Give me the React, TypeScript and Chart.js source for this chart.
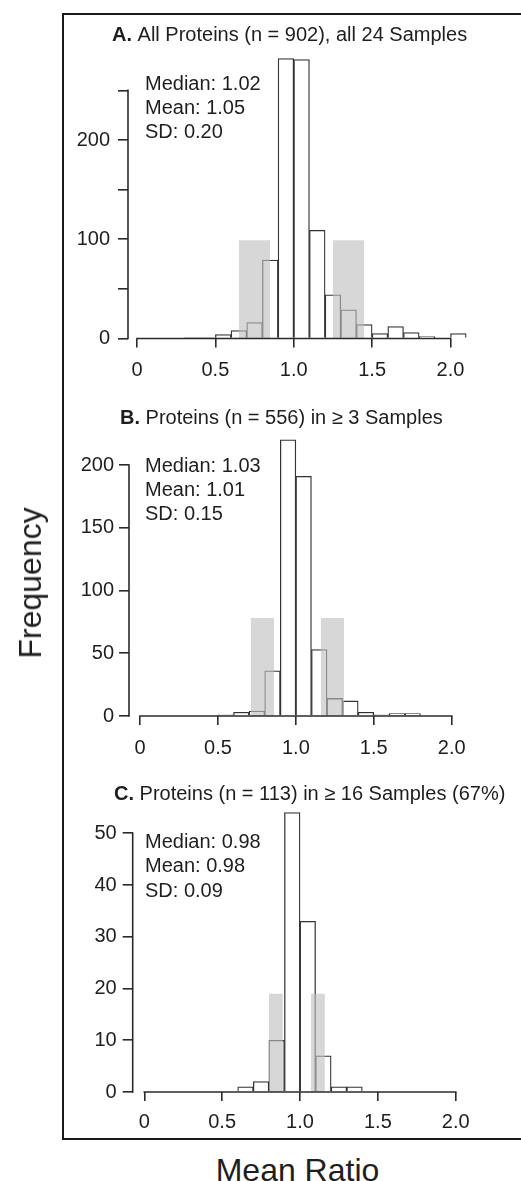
import React, { useEffect, useRef } from 'react';
import { Chart, registerables } from 'chart.js';

Chart.register(...registerables);

const FONT = "'Liberation Sans', Arial, Helvetica, sans-serif";
const TEXT_COLOR = '#1e1e1e';
const AXIS_COLOR = '#2a2a2a';
const BAR_BORDER = '#333333';
const BAND_COLOR = 'rgba(190,190,190,0.62)';

// ---- data ----
const binStarts = [0.3, 0.4, 0.5, 0.6, 0.7, 0.8, 0.9, 1.0, 1.1, 1.2, 1.3, 1.4, 1.5, 1.6, 1.7, 1.8, 1.9, 2.0];
const binWidth = 0.1;

const countsA = [1, 1, 4, 8, 16, 79, 282, 281, 109, 44, 29, 14, 5, 12, 6, 2, 0, 5];
const countsB = [0, 0, 1, 3, 4, 36, 220, 191, 53, 14, 12, 3, 1, 2, 2, 0, 0, 0];
const countsC = [0, 0, 0, 1, 2, 10, 54, 33, 7, 1, 1, 0, 0, 0, 0, 0, 0, 0];

// shaded bands: [mean - 2SD, mean - SD] and [mean + SD, mean + 2SD]
const bandLowA = [0.65, 0.85];
const bandHighA = [1.25, 1.45];
const bandHeightA = 99;
const bandLowB = [0.71, 0.86];
const bandHighB = [1.16, 1.31];
const bandHeightB = 78;
const bandLowC = [0.8, 0.89];
const bandHighC = [1.07, 1.16];
const bandHeightC = 19;

const xTickValues = [0, 0.5, 1.0, 1.5, 2.0];
const xTickLabels = ['0', '0.5', '1.0', '1.5', '2.0'];

const yTicksA = [0, 50, 100, 150, 200, 250];
const yLabelsA = ['0', '', '100', '', '200', ''];
const yTicksB = [0, 50, 100, 150, 200];
const yLabelsB = ['0', '50', '100', '150', '200'];
const yTicksC = [0, 10, 20, 30, 40, 50];
const yLabelsC = ['0', '10', '20', '30', '40', '50'];

const titleA = ['A.', ' All Proteins (n = 902), all 24 Samples'];
const titleB = ['B.', ' Proteins (n = 556) in \u2265 3 Samples'];
const titleC = ['C.', ' Proteins (n = 113) in \u2265 16 Samples (67%)'];

const statsA = ['Median: 1.02', 'Mean: 1.05', 'SD: 0.20'];
const statsB = ['Median: 1.03', 'Mean: 1.01', 'SD: 0.15'];
const statsC = ['Median: 0.98', 'Mean: 0.98', 'SD: 0.09'];

const yAxisTitle = 'Frequency';
const xAxisTitle = 'Mean Ratio';

// ---- layout (page pixels) ----
const PAGE_W = 521;
const PAGE_H = 1181;

interface Geo {
  top: number; height: number; yAxisX: number; x0: number; x2: number; chartRight: number;
  y0: number; yRefVal: number; yRefPx: number; chartTop: number;
  yPad: number; xPad: number; titleX: number; titleY: number; statsX: number; statsY: number[];
}

interface PanelDef {
  counts: number[]; bandLow: number[]; bandHigh: number[]; bandHeight: number;
  yTicks: number[]; yLabels: string[]; title: string[]; stats: string[]; geo: Geo;
}

const panels: PanelDef[] = [
  {
    counts: countsA, bandLow: bandLowA, bandHigh: bandHighA, bandHeight: bandHeightA,
    yTicks: yTicksA, yLabels: yLabelsA, title: titleA, stats: statsA,
    geo: { top: 0, height: 395, yAxisX: 128, x0: 137, x2: 450.5, chartRight: 481, y0: 338.5, yRefVal: 200, yRefPx: 140, chartTop: 45,
      yPad: 8, xPad: 10.5, titleX: 112, titleY: 35.5, statsX: 145, statsY: [84, 108.3, 132.7] },
  },
  {
    counts: countsB, bandLow: bandLowB, bandHigh: bandHighB, bandHeight: bandHeightB,
    yTicks: yTicksB, yLabels: yLabelsB, title: titleB, stats: statsB,
    geo: { top: 395, height: 375, yAxisX: 129, x0: 140, x2: 451.7, chartRight: 483, y0: 716, yRefVal: 200, yRefPx: 465, chartTop: 430,
      yPad: 5, xPad: 11, titleX: 120, titleY: 418.3, statsX: 145, statsY: [466, 490.3, 514.7] },
  },
  {
    counts: countsC, bandLow: bandLowC, bandHigh: bandHighC, bandHeight: bandHeightC,
    yTicks: yTicksC, yLabels: yLabelsC, title: titleC, stats: statsC,
    geo: { top: 770, height: 375, yAxisX: 132.7, x0: 144.3, x2: 455.7, chartRight: 487, y0: 1092, yRefVal: 50, yRefPx: 833.3, chartTop: 800,
      yPad: 6, xPad: 9, titleX: 114, titleY: 794.8, statsX: 145, statsY: [842.7, 866.7, 891] },
  },
];

function makeDecorPlugin(p: PanelDef) {
  const g = p.geo;
  return {
    id: 'panelDecor',
    afterDatasetsDraw(chart: any) {
      const ctx: CanvasRenderingContext2D = chart.ctx;
      const xs = chart.scales.x;
      const ys = chart.scales.y;
      ctx.save();
      ctx.strokeStyle = AXIS_COLOR;
      ctx.lineWidth = 1.6;
      const yb = ys.getPixelForValue(0);
      ctx.beginPath();
      ctx.moveTo(xs.getPixelForValue(xTickValues[0]) - 0.8, yb);
      ctx.lineTo(xs.getPixelForValue(xTickValues[xTickValues.length - 1]) + 0.8, yb);
      ctx.stroke();
      const xl = chart.chartArea.left;
      ctx.beginPath();
      ctx.moveTo(xl, ys.getPixelForValue(p.yTicks[0]) + 0.8);
      ctx.lineTo(xl, ys.getPixelForValue(p.yTicks[p.yTicks.length - 1]) - 0.8);
      ctx.stroke();

      ctx.fillStyle = TEXT_COLOR;
      ctx.textBaseline = 'middle';
      ctx.textAlign = 'left';
      const ty = g.titleY - g.top;
      ctx.font = `bold 20px ${FONT}`;
      ctx.fillText(p.title[0], g.titleX, ty);
      const w = ctx.measureText(p.title[0]).width;
      ctx.font = `20px ${FONT}`;
      ctx.fillText(p.title[1], g.titleX + w, ty);
      p.stats.forEach((s, i) => ctx.fillText(s, g.statsX, g.statsY[i] - g.top));
      ctx.restore();
    },
  };
}

function PanelChart({ p }: { p: PanelDef }) {
  const ref = useRef<HTMLCanvasElement | null>(null);
  useEffect(() => {
    if (!ref.current) return;
    const g = p.geo;
    const ppuX = (g.x2 - g.x0) / 2;
    const xmin = (g.yAxisX - g.x0) / ppuX;
    const xmax = (g.chartRight - g.x0) / ppuX;
    const ppuY = (g.y0 - g.yRefPx) / g.yRefVal;
    const ymax = (g.y0 - g.chartTop) / ppuY;
    const xAxisH = g.top + g.height - g.y0;

    const histData = binStarts
      .map((s, i) => ({ x: s + binWidth / 2, y: p.counts[i] }))
      .filter((d) => d.y > 0);

    const bandDataset = (range: number[]) => ({
      type: 'line' as const,
      data: [
        { x: range[0], y: p.bandHeight },
        { x: range[1], y: p.bandHeight },
      ],
      fill: 'origin',
      backgroundColor: BAND_COLOR,
      borderColor: 'rgba(0,0,0,0)',
      borderWidth: 0,
      pointRadius: 0,
      tension: 0,
      order: 1,
    });

    const tickFont = { family: FONT, size: 20, lineHeight: 1.2 };

    const chart = new Chart(ref.current, {
      type: 'bar',
      data: {
        datasets: [
          {
            type: 'bar',
            data: histData as any,
            backgroundColor: '#ffffff',
            borderColor: BAR_BORDER,
            borderWidth: 1.3,
            borderSkipped: 'start',
            barPercentage: 1,
            categoryPercentage: 1,
            order: 2,
          } as any,
          bandDataset(p.bandLow) as any,
          bandDataset(p.bandHigh) as any,
        ],
      },
      options: {
        animation: false,
        responsive: false,
        events: [],
        layout: { padding: { left: 0, right: PAGE_W - g.chartRight, top: g.chartTop - g.top, bottom: 0 } },
        plugins: { legend: { display: false }, tooltip: { enabled: false }, title: { display: false } },
        scales: {
          x: {
            type: 'linear',
            min: xmin,
            max: xmax,
            offset: false,
            grid: { display: true, offset: false, drawOnChartArea: false, drawTicks: true, tickLength: 9, color: AXIS_COLOR, lineWidth: 1.6 },
            border: { display: false },
            ticks: {
              autoSkip: false,
              maxRotation: 0,
              minRotation: 0,
              padding: g.xPad,
              color: TEXT_COLOR,
              font: tickFont,
              callback: (_v: any, i: number) => xTickLabels[i],
            },
            afterBuildTicks: (s: any) => {
              s.ticks = xTickValues.map((v) => ({ value: v }));
            },
            afterFit: (s: any) => {
              s.height = xAxisH;
            },
          },
          y: {
            type: 'linear',
            min: 0,
            max: ymax,
            grid: { display: true, drawOnChartArea: false, drawTicks: true, tickLength: 10, color: AXIS_COLOR, lineWidth: 1.6 },
            border: { display: false },
            ticks: {
              autoSkip: false,
              padding: g.yPad,
              color: TEXT_COLOR,
              font: tickFont,
              callback: (_v: any, i: number) => p.yLabels[i],
            },
            afterBuildTicks: (s: any) => {
              s.ticks = p.yTicks.map((v) => ({ value: v }));
            },
            afterFit: (s: any) => {
              s.width = g.yAxisX;
            },
          },
        },
      } as any,
      plugins: [makeDecorPlugin(p)],
    });
    return () => chart.destroy();
  }, [p]);

  const g = p.geo;
  return (
    <canvas
      ref={ref}
      width={PAGE_W}
      height={g.height}
      style={{ position: 'absolute', left: 0, top: g.top, width: PAGE_W, height: g.height }}
    />
  );
}

export default function App() {
  useEffect(() => {
    document.body.style.margin = '0';
    document.documentElement.style.overflow = 'hidden';
  }, []);
  return (
    <div
      style={{
        position: 'absolute', left: 0, top: 0, width: PAGE_W, height: PAGE_H,
        overflow: 'hidden', background: '#ffffff', fontFamily: FONT, color: TEXT_COLOR,
      }}
    >
      <div
        style={{
          position: 'absolute', left: 62, top: 13, width: 520, height: 1127,
          border: '2px solid #1a1a1a', boxSizing: 'border-box',
        }}
      />
      {panels.map((p, i) => (
        <PanelChart key={i} p={p} />
      ))}
      <div
        style={{
          position: 'absolute', left: 30, top: 583, fontSize: 32, lineHeight: 1,
          whiteSpace: 'nowrap', transform: 'translate(-50%, -50%) rotate(-90deg)',
        }}
      >
        {yAxisTitle}
      </div>
      <div
        style={{
          position: 'absolute', left: 297.5, top: 1154, fontSize: 32, lineHeight: 1,
          whiteSpace: 'nowrap', transform: 'translateX(-50%)',
        }}
      >
        {xAxisTitle}
      </div>
    </div>
  );
}
